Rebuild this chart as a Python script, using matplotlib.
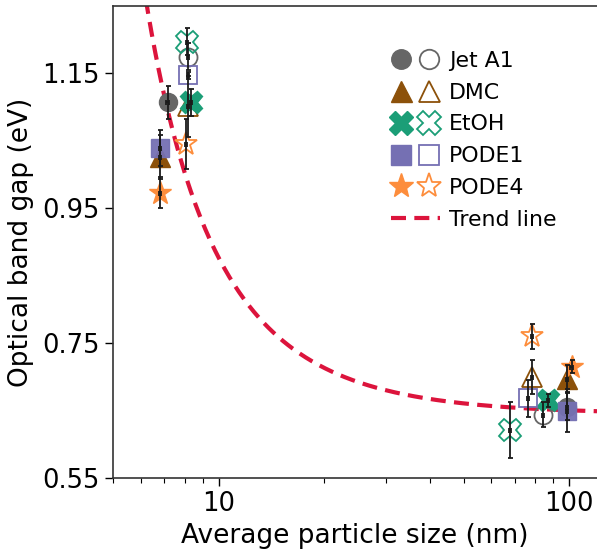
import numpy as np
import matplotlib.pyplot as plt
from matplotlib.legend_handler import HandlerTuple
from matplotlib.lines import Line2D

fuels = ["Jet A1", "DMC", "EtOH", "PODE1", "PODE4"]
colors = ["#666666", "#8c510a", "#1b9e77", "#7570b3", "#fd8d3c"]
markers = ["o", "^", "X", "s", "*"]
msizes = [13, 14, 16, 13.5, 17]

# small particles (left group): filled and open symbols
small_filled_x = [7.16, 6.81, 8.34, 6.81, 6.81]
small_filled_y = [1.107, 1.026, 1.107, 1.039, 0.973]
small_filled_err = [0.025, 0.033, 0.02, 0.027, 0.023]
small_open_x = [8.18, 8.18, 8.12, 8.18, 8.06]
small_open_y = [1.175, 1.101, 1.197, 1.147, 1.046]
small_open_err = [0.02, 0.045, 0.02, 0.005, 0.037]

# large particles (right group)
large_filled_x = [98.4, 98.4, 87.1, 98.4, 101.6]
large_filled_y = [0.656, 0.697, 0.665, 0.650, 0.715]
large_filled_err = [0.02, 0.02, 0.01, 0.032, 0.01]
large_open_x = [84.3, 78.2, 67.8, 76.4, 78.2]
large_open_y = [0.644, 0.700, 0.621, 0.668, 0.760]
large_open_err = [0.018, 0.025, 0.041, 0.028, 0.019]

# trend line y = c + a / (d - d0)**n
trend_c, trend_a, trend_d0, trend_n = 0.645, 5.2, 2.05, 1.5

plt.rcParams["font.family"] = "DejaVu Sans"
fig = plt.figure(figsize=(5.97, 5.50), dpi=100)
ax = fig.add_axes([0.1893, 0.1309, 0.8107, 0.8582])

d = np.logspace(np.log10(5), np.log10(120), 300)
ax.plot(d, trend_c + trend_a / (d - trend_d0) ** trend_n, "--", color="crimson", lw=3,
        dashes=(3.6, 2.0), zorder=1)

handles = []
for i, fuel in enumerate(fuels):
    xs_f = [small_filled_x[i], large_filled_x[i]]
    ys_f = [small_filled_y[i], large_filled_y[i]]
    es_f = [small_filled_err[i], large_filled_err[i]]
    xs_o = [small_open_x[i], large_open_x[i]]
    ys_o = [small_open_y[i], large_open_y[i]]
    es_o = [small_open_err[i], large_open_err[i]]

    ax.plot(xs_f, ys_f, markers[i], ms=msizes[i], color=colors[i], mec=colors[i],
            mew=1, alpha=0.95 if markers[i] == "s" else 1, zorder=3)
    ax.plot(xs_o, ys_o, markers[i], ms=msizes[i], mfc="none", mec=colors[i],
            mew=1.3, zorder=3)
    ax.errorbar(xs_f + xs_o, ys_f + ys_o, yerr=es_f + es_o,
                xerr=[0.008 * x for x in xs_f + xs_o], fmt="none", ecolor="#1a1a1a",
                elinewidth=1.3, capsize=1.8, capthick=1.3, zorder=4)

    # legend pair: filled + open symbol
    h_f = Line2D([], [], marker=markers[i], ls="none", ms=msizes[i] * 1.08, color=colors[i])
    h_o = Line2D([], [], marker=markers[i], ls="none", ms=msizes[i] * 1.08, mfc="none",
                 mec=colors[i], mew=1.3)
    handles.append((h_f, h_o))

h_trend = Line2D([], [], ls="--", color="crimson", lw=3, dashes=(3.6, 2.0))
labels = fuels + ["Trend line"]
ax.legend(handles + [h_trend], labels, handler_map={tuple: HandlerTuple(ndivide=None, pad=0.3)},
          loc="upper left", bbox_to_anchor=(0.533, 0.947), frameon=False, fontsize=15.8,
          handlelength=2.25, labelspacing=0.54, handletextpad=0.42)

ax.set_xscale("log")
ax.set_xlim(5, 120)
ax.set_ylim(0.55, 1.25)
ax.set_yticks([0.55, 0.75, 0.95, 1.15])
ax.set_yticklabels(["0.55", "0.75", "0.95", "1.15"])
ax.set_xticks([10, 100])
ax.set_xticklabels(["10", "100"])
ax.tick_params(labelsize=18.5, width=1, length=6)
ax.tick_params(which="minor", length=3.5, width=0.8)
ax.spines["right"].set_visible(False)
for s in ["left", "top", "bottom"]:
    ax.spines[s].set_color("#333333")
    ax.spines[s].set_linewidth(1.2)

ax.set_xlabel("Average particle size (nm)", fontsize=19, labelpad=4)
ax.set_ylabel("Optical band gap (eV)", fontsize=19, labelpad=6)

fig.savefig("out.png", dpi=100)
